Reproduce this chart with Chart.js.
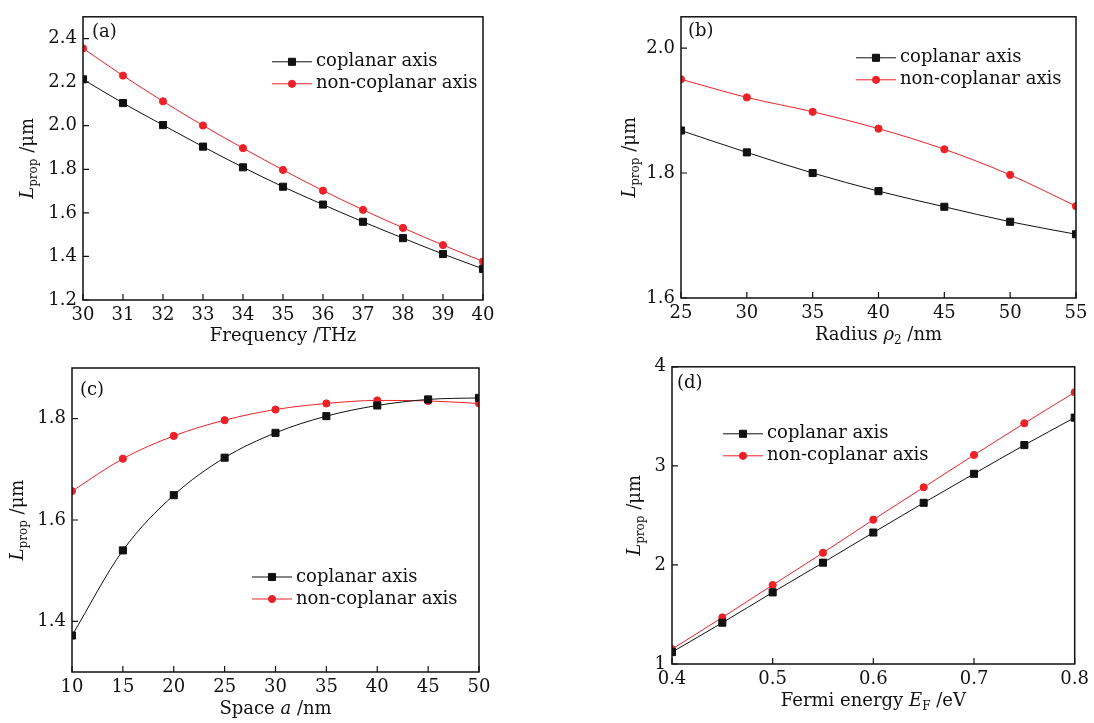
<!DOCTYPE html>
<html>
<head>
<meta charset="utf-8">
<script src="https://cdn.jsdelivr.net/npm/chart.js@4/dist/chart.umd.min.js"></script>
<style>
  html, body { margin: 0; padding: 0; background: #fff; }
  #wrap { position: relative; width: 1094px; height: 723px; overflow: hidden; }
  canvas { position: absolute; }
</style>
</head>
<body>
<div id="wrap">
  <canvas id="panelA" width="540" height="350" style="left:0;top:0"></canvas>
  <canvas id="panelB" width="534" height="350" style="left:560px;top:0"></canvas>
  <canvas id="panelC" width="540" height="373" style="left:0;top:350px"></canvas>
  <canvas id="panelD" width="534" height="373" style="left:560px;top:350px"></canvas>
</div>
<script>
// ---- data ----
const freqTHz = [30, 31, 32, 33, 34, 35, 36, 37, 38, 39, 40];
const coplanarFreq = [2.213, 2.104, 2.003, 1.904, 1.809, 1.720, 1.638, 1.559, 1.484, 1.411, 1.343];
const nonCoplanarFreq = [2.355, 2.230, 2.112, 2.001, 1.897, 1.797, 1.702, 1.614, 1.531, 1.452, 1.377];

const radiusNm = [25, 30, 35, 40, 45, 50, 55];
const coplanarRadius = [1.868, 1.833, 1.800, 1.771, 1.746, 1.722, 1.702];
const nonCoplanarRadius = [1.950, 1.921, 1.898, 1.871, 1.838, 1.797, 1.747];

const spaceNm = [10, 15, 20, 25, 30, 35, 40, 45, 50];
const coplanarSpace = [1.372, 1.540, 1.649, 1.723, 1.772, 1.805, 1.826, 1.838, 1.841];
const nonCoplanarSpace = [1.657, 1.721, 1.766, 1.797, 1.818, 1.830, 1.836, 1.835, 1.830];

const fermiEv = [0.40, 0.45, 0.50, 0.55, 0.60, 0.65, 0.70, 0.75, 0.80];
const coplanarFermi = [1.120, 1.417, 1.723, 2.023, 2.327, 2.627, 2.920, 3.210, 3.487];
const nonCoplanarFermi = [1.150, 1.470, 1.797, 2.123, 2.457, 2.783, 3.110, 3.430, 3.743];

// tick labels
const xTicksA = [30, 31, 32, 33, 34, 35, 36, 37, 38, 39, 40];
const yTicksA = [1.2, 1.4, 1.6, 1.8, 2.0, 2.2, 2.4];
const xTicksB = [25, 30, 35, 40, 45, 50, 55];
const yTicksB = [1.6, 1.8, 2.0];
const xTicksC = [10, 15, 20, 25, 30, 35, 40, 45, 50];
const yTicksC = [1.4, 1.6, 1.8];
const xTicksD = [0.4, 0.5, 0.6, 0.7, 0.8];
const yTicksD = [1, 2, 3, 4];

const seriesNames = ['coplanar axis', 'non-coplanar axis'];

// ---- style ----
const ink = '#111';
const red = '#ec2228';
const serif = '"DejaVu Serif", "Liberation Serif", serif';
const fontSize = 18;

function pairs(xs, ys) {
    return xs.map((x, i) => ({ x, y: ys[i] }));
}

// rich text runs: {t, italic, sub}
function runFont(r) {
    if (r.sub) return `12px ${serif}`;
    return `${r.italic ? 'italic ' : ''}${fontSize}px ${serif}`;
}

function drawRuns(ctx, runs, cx, cy) {
    let total = 0;
    runs.forEach(r => { ctx.font = runFont(r); total += ctx.measureText(r.t).width; });
    let x = cx - total / 2;
    ctx.textAlign = 'left';
    ctx.textBaseline = 'middle';
    runs.forEach(r => {
        ctx.font = runFont(r);
        ctx.fillText(r.t, x, r.sub ? cy + 6 : cy);
        x += ctx.measureText(r.t).width;
    });
}

const yTitleRuns = [{ t: 'L', italic: true }, { t: 'prop', sub: true }, { t: ' /μm' }];

// frame, inward ticks, titles, tag and legend
const panelDecor = {
    id: 'panelDecor',
    afterDraw(chart, args, opts) {
        const ctx = chart.ctx;
        const a = chart.chartArea;
        const xs = chart.scales.x, ys = chart.scales.y;
        ctx.save();
        ctx.strokeStyle = ink;
        ctx.fillStyle = ink;

        ctx.lineWidth = 1.2;
        ctx.beginPath();
        xs.ticks.forEach(t => {
            const px = xs.getPixelForValue(t.value);
            ctx.moveTo(px, a.bottom);
            ctx.lineTo(px, a.bottom - 6);
        });
        ys.ticks.forEach(t => {
            const py = ys.getPixelForValue(t.value);
            ctx.moveTo(a.left, py);
            ctx.lineTo(a.left + 6, py);
        });
        ctx.stroke();

        ctx.lineWidth = 1.5;
        ctx.strokeRect(a.left, a.top, a.right - a.left, a.bottom - a.top);

        // panel tag
        ctx.font = `${fontSize}px ${serif}`;
        ctx.textAlign = 'left';
        ctx.textBaseline = 'middle';
        ctx.fillText(opts.tag, a.left + opts.tagX, a.top + opts.tagY);

        // axis titles
        drawRuns(ctx, opts.xTitle, (a.left + a.right) / 2, a.bottom + opts.xTitleGap);
        ctx.save();
        ctx.translate(a.left - opts.yTitleGap, (a.top + a.bottom) / 2);
        ctx.rotate(-Math.PI / 2);
        drawRuns(ctx, yTitleRuns, 0, 0);
        ctx.restore();

        // legend: line with marker, then label
        chart.data.datasets.forEach((ds, i) => {
            const x0 = a.left + opts.legendX;
            const y = a.top + opts.legendY + i * 22;
            ctx.strokeStyle = ds.borderColor;
            ctx.lineWidth = 1;
            ctx.beginPath();
            ctx.moveTo(x0, y);
            ctx.lineTo(x0 + 40, y);
            ctx.stroke();
            ctx.fillStyle = ds.pointBackgroundColor;
            ctx.strokeStyle = ds.pointBorderColor;
            Chart.helpers.drawPoint(ctx, {
                pointStyle: ds.pointStyle, radius: ds.pointRadius, rotation: 0, borderWidth: 1
            }, x0 + 20, y);
            ctx.fillStyle = ink;
            ctx.font = `${fontSize}px ${serif}`;
            ctx.textAlign = 'left';
            ctx.textBaseline = 'middle';
            ctx.fillText(ds.label, x0 + 44, y);
        });
        ctx.restore();
    }
};

function makePanel(id, p) {
    const canvas = document.getElementById(id);
    const box = p.area;
    return new Chart(canvas, {
        type: 'line',
        data: {
            datasets: [
                {
                    label: seriesNames[0],
                    data: pairs(p.xs, p.co),
                    borderColor: ink,
                    pointBackgroundColor: ink,
                    pointBorderColor: ink,
                    pointStyle: 'rect',
                    pointRadius: 5,
                },
                {
                    label: seriesNames[1],
                    data: pairs(p.xs, p.non),
                    borderColor: red,
                    pointBackgroundColor: red,
                    pointBorderColor: red,
                    pointStyle: 'circle',
                    pointRadius: 3.6,
                }
            ].map(ds => ({
                ...ds,
                borderWidth: 1,
                pointBorderWidth: 1,
                cubicInterpolationMode: 'monotone',
                fill: false,
                clip: 0,
            }))
        },
        options: {
            responsive: false,
            devicePixelRatio: 1,
            animation: false,
            events: [],
            layout: {
                padding: { left: 0, top: box.top, right: canvas.width - box.right, bottom: 0 }
            },
            plugins: {
                legend: { display: false },
                tooltip: { enabled: false },
                panelDecor: p.decor,
            },
            scales: {
                x: {
                    type: 'linear',
                    min: p.xMin, max: p.xMax,
                    afterBuildTicks: s => { s.ticks = p.xTicks.map(v => ({ value: v })); },
                    afterFit: s => { s.height = canvas.height - box.bottom; },
                    grid: { display: false, drawTicks: false },
                    border: { display: false },
                    ticks: {
                        padding: 5, color: ink, autoSkip: false, maxRotation: 0,
                        font: { family: serif, size: fontSize },
                        callback: v => Number(v).toFixed(p.xDec)
                    }
                },
                y: {
                    type: 'linear',
                    min: p.yMin, max: p.yMax,
                    afterBuildTicks: s => { s.ticks = p.yTicks.map(v => ({ value: v })); },
                    afterFit: s => { s.width = box.left; },
                    grid: { display: false, drawTicks: false },
                    border: { display: false },
                    ticks: {
                        padding: 6, color: ink, autoSkip: false,
                        font: { family: serif, size: fontSize },
                        callback: v => Number(v).toFixed(p.yDec)
                    }
                }
            }
        },
        plugins: [panelDecor]
    });
}

// (a) frequency sweep
makePanel('panelA', {
    xs: freqTHz, co: coplanarFreq, non: nonCoplanarFreq,
    xMin: 30, xMax: 40, xTicks: xTicksA, xDec: 0,
    yMin: 1.2, yMax: 2.5, yTicks: yTicksA, yDec: 1,
    area: { left: 83, top: 4, right: 483, bottom: 300 },
    decor: {
        tag: '(a)', tagX: 9, tagY: 16,
        xTitle: [{ t: 'Frequency /THz' }], xTitleGap: 36, yTitleGap: 55,
        legendX: 189, legendY: 45
    }
});

// (b) radius sweep
makePanel('panelB', {
    xs: radiusNm, co: coplanarRadius, non: nonCoplanarRadius,
    xMin: 25, xMax: 55, xTicks: xTicksB, xDec: 0,
    yMin: 1.6, yMax: 2.05, yTicks: yTicksB, yDec: 1,
    area: { left: 121, top: 5, right: 516, bottom: 298 },
    decor: {
        tag: '(b)', tagX: 7, tagY: 15,
        xTitle: [{ t: 'Radius ' }, { t: 'ρ', italic: true }, { t: '2', sub: true }, { t: ' /nm' }],
        xTitleGap: 37, yTitleGap: 51,
        legendX: 175, legendY: 41
    }
});

// (c) spacing sweep
makePanel('panelC', {
    xs: spaceNm, co: coplanarSpace, non: nonCoplanarSpace,
    xMin: 10, xMax: 50, xTicks: xTicksC, xDec: 0,
    yMin: 1.3, yMax: 1.9, yTicks: yTicksC, yDec: 1,
    area: { left: 72, top: 18, right: 479, bottom: 322 },
    decor: {
        tag: '(c)', tagX: 8, tagY: 22,
        xTitle: [{ t: 'Space ' }, { t: 'a', italic: true }, { t: ' /nm' }],
        xTitleGap: 37, yTitleGap: 54,
        legendX: 180, legendY: 209
    }
});

// (d) Fermi energy sweep
makePanel('panelD', {
    xs: fermiEv, co: coplanarFermi, non: nonCoplanarFermi,
    xMin: 0.4, xMax: 0.8, xTicks: xTicksD, xDec: 1,
    yMin: 1, yMax: 4, yTicks: yTicksD, yDec: 0,
    area: { left: 112, top: 14, right: 515, bottom: 314 },
    decor: {
        tag: '(d)', tagX: 5, tagY: 17,
        xTitle: [{ t: 'Fermi energy ' }, { t: 'E', italic: true }, { t: 'F', sub: true }, { t: ' /eV' }],
        xTitleGap: 37, yTitleGap: 37,
        legendX: 51, legendY: 67
    }
});
</script>
</body>
</html>
